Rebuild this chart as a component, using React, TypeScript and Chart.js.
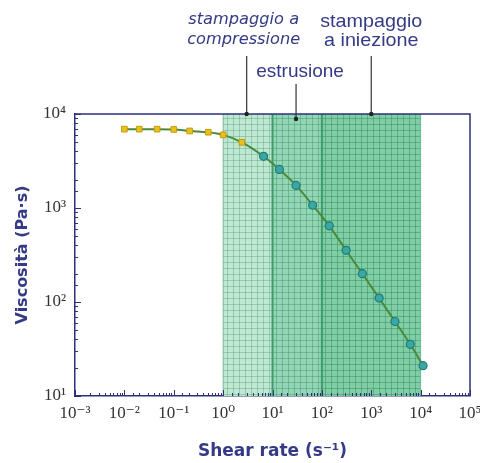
import React, { useEffect, useRef } from "react";
import { Chart, registerables } from "chart.js";

Chart.register(...registerables);

// ---- Data ----
const xMin = 1e-3;
const xMax = 1e5;
const yMin = 10;
const yMax = 1e4;

// yellow squares (Newtonian plateau)
const yellowShear = [0.01, 0.02, 0.046, 0.1, 0.21, 0.5, 1.0, 2.4];
const yellowVisc = [6900, 6900, 6900, 6850, 6600, 6400, 6000, 5000];

// teal circles (shear thinning)
const tealShear = [6.6, 13.8, 30, 65, 141, 309, 661, 1445, 3020, 6170, 11200];
const tealVisc = [3550, 2570, 1740, 1070, 646, 355, 200, 110, 62, 35.5, 21];

// processing ranges (shear-rate bounds)
const regionBounds = [1, 10, 100, 10000];

// annotations: text lines and the shear rate each arrow points to
const annotTexts = [["stampaggio a", "compressione"], ["estrusione"], ["stampaggio", "a iniezione"]];
const annotShear = [3, 30, 1000];

const axisTitleX = "Shear rate (s\u207B\u00B9)";
const axisTitleY = "Viscosità (Pa·s)";

// ---- Styles ----
const NAVY = "#2c3178";
const TEXT_NAVY = "#343a86";
const regionFill = ["#bfe8d3", "#92d6b5", "#7fcea6"];
const regionGrid = ["rgba(70,150,110,0.35)", "rgba(50,130,90,0.35)", "rgba(40,120,80,0.38)"];

const SUP: Record<string, string> = {
  "-": "\u207B", "0": "\u2070", "1": "\u00B9", "2": "\u00B2", "3": "\u00B3",
  "4": "\u2074", "5": "\u2075", "6": "\u2076", "7": "\u2077", "8": "\u2078", "9": "\u2079",
};
const sup = (s: string) => s.split("").map((c) => SUP[c] || c).join("");

const isMajor = (v: number) => {
  const l = Math.log10(v);
  return Math.abs(l - Math.round(l)) < 1e-6;
};
const powLabel = (v: number) => (isMajor(v) ? "10" + sup(String(Math.round(Math.log10(v)))) : "");

const bgPlugin = {
  id: "bg",
  beforeDraw(chart: any) {
    const { ctx, width, height } = chart;
    ctx.save();
    ctx.fillStyle = "#ffffff";
    ctx.fillRect(0, 0, width, height);
    ctx.restore();
  },
};

const regionsPlugin = {
  id: "regions",
  beforeDatasetsDraw(chart: any) {
    const { ctx, chartArea } = chart;
    const x = chart.scales.x;
    const { top, bottom } = chartArea;
    ctx.save();
    for (let i = 0; i < regionBounds.length - 1; i++) {
      const x0 = x.getPixelForValue(regionBounds[i]);
      const x1 = x.getPixelForValue(regionBounds[i + 1]);
      ctx.fillStyle = regionFill[i];
      ctx.fillRect(x0, top, x1 - x0, bottom - top);
      ctx.strokeStyle = regionGrid[i];
      ctx.lineWidth = 1;
      ctx.beginPath();
      for (let gx = x0 + 3.5; gx < x1; gx += 6) {
        ctx.moveTo(Math.round(gx) + 0.5, top);
        ctx.lineTo(Math.round(gx) + 0.5, bottom);
      }
      for (let gy = top + 3.5; gy < bottom; gy += 6) {
        ctx.moveTo(x0, Math.round(gy) + 0.5);
        ctx.lineTo(x1, Math.round(gy) + 0.5);
      }
      ctx.stroke();
    }
    // region dividers
    ctx.strokeStyle = "#3f9a6c";
    ctx.lineWidth = 2;
    ctx.beginPath();
    for (let i = 1; i < regionBounds.length - 1; i++) {
      const px = x.getPixelForValue(regionBounds[i]);
      ctx.moveTo(px, top);
      ctx.lineTo(px, bottom);
    }
    ctx.stroke();
    ctx.strokeStyle = "rgba(63,154,108,0.6)";
    ctx.lineWidth = 1;
    ctx.beginPath();
    [regionBounds[0], regionBounds[regionBounds.length - 1]].forEach((b) => {
      const px = x.getPixelForValue(b);
      ctx.moveTo(px, top);
      ctx.lineTo(px, bottom);
    });
    ctx.stroke();
    ctx.restore();
  },
};

const framePlugin = {
  id: "frame",
  afterDraw(chart: any) {
    const { ctx, chartArea } = chart;
    const { left, right, top, bottom } = chartArea;
    const x = chart.scales.x;
    const y = chart.scales.y;
    ctx.save();
    // top and right frame
    ctx.strokeStyle = NAVY;
    ctx.lineWidth = 1.5;
    ctx.beginPath();
    ctx.moveTo(left, top);
    ctx.lineTo(right, top);
    ctx.lineTo(right, bottom);
    ctx.stroke();

    // inward ticks
    ctx.lineWidth = 1;
    ctx.beginPath();
    x.ticks.forEach((t: any) => {
      const px = Math.round(x.getPixelForValue(t.value)) + 0.5;
      const len = isMajor(t.value) ? 6 : 3;
      ctx.moveTo(px, bottom);
      ctx.lineTo(px, bottom - len);
    });
    y.ticks.forEach((t: any) => {
      const py = Math.round(y.getPixelForValue(t.value)) + 0.5;
      const len = isMajor(t.value) ? 6 : 3;
      ctx.moveTo(left, py);
      ctx.lineTo(left + len, py);
    });
    ctx.stroke();

    // annotations
    ctx.fillStyle = TEXT_NAVY;
    ctx.strokeStyle = "#222";
    ctx.textAlign = "center";
    ctx.textBaseline = "middle";
    const textCenters = [
      { dx: -3, ys: [20, 40], font: "oblique 15px 'DejaVu Sans'", scaleX: 1.08, lineTop: 56, dotY: top },
      { dx: 4, ys: [72], font: "19px 'Liberation Sans'", scaleX: 1.0, lineTop: 84, dotY: top + 5 },
      { dx: 0, ys: [22, 41], font: "19px 'Liberation Sans'", scaleX: 1.04, lineTop: 56, dotY: top },
    ];
    annotTexts.forEach((lines, i) => {
      const px = x.getPixelForValue(annotShear[i]);
      const c = textCenters[i];
      ctx.font = c.font;
      lines.forEach((ln, j) => {
        ctx.save();
        ctx.translate(px + c.dx, c.ys[j]);
        ctx.scale(c.scaleX, 1);
        ctx.fillText(ln, 0, 0);
        ctx.restore();
      });
      ctx.strokeStyle = "#333";
      ctx.lineWidth = 1.2;
      ctx.beginPath();
      ctx.moveTo(px, c.lineTop);
      ctx.lineTo(px, c.dotY);
      ctx.stroke();
      ctx.fillStyle = "#222";
      ctx.beginPath();
      ctx.arc(px, c.dotY, 2.2, 0, Math.PI * 2);
      ctx.fill();
      ctx.fillStyle = TEXT_NAVY;
    });
    ctx.restore();
  },
};

export default function App() {
  const ref = useRef<HTMLCanvasElement | null>(null);

  useEffect(() => {
    const canvas = ref.current;
    if (!canvas) return;
    const curve = [
      ...yellowShear.map((s, i) => ({ x: s, y: yellowVisc[i] })),
      ...tealShear.map((s, i) => ({ x: s, y: tealVisc[i] })),
    ];
    const chart = new Chart(canvas, {
      type: "line",
      data: {
        datasets: [
          {
            label: "yellow",
            data: yellowShear.map((s, i) => ({ x: s, y: yellowVisc[i] })),
            showLine: false,
            pointStyle: "rect",
            pointRadius: 4,
            backgroundColor: "#e8c21a",
            borderColor: "#c79a10",
            borderWidth: 1,
          },
          {
            label: "teal",
            data: tealShear.map((s, i) => ({ x: s, y: tealVisc[i] })),
            showLine: false,
            pointStyle: "circle",
            pointRadius: 4,
            backgroundColor: "#3aa8a2",
            borderColor: "#1f7a78",
            borderWidth: 1.2,
          },
          {
            label: "fit",
            data: curve,
            showLine: true,
            pointRadius: 0,
            borderColor: "#4a8a3a",
            borderWidth: 2,
            cubicInterpolationMode: "monotone",
            fill: false,
          },
        ],
      },
      options: {
        responsive: false,
        animation: false,
        devicePixelRatio: 1,
        layout: { padding: { top: 114, right: 10, left: 0, bottom: 0 } },
        plugins: {
          legend: { display: false },
          tooltip: { enabled: false },
        },
        scales: {
          x: {
            type: "logarithmic",
            min: xMin,
            max: xMax,
            border: { display: true, color: NAVY, width: 1.5 },
            grid: { display: true, drawOnChartArea: false, drawTicks: false },
            ticks: {
              autoSkip: false,
              maxRotation: 0,
              padding: 7,
              color: "#333",
              font: { family: "'Liberation Serif', 'DejaVu Serif', serif", size: 17 },
              callback: (v: any) => powLabel(Number(v)),
            },
            title: {
              display: true,
              text: axisTitleX,
              color: TEXT_NAVY,
              font: { family: "'DejaVu Sans'", size: 17, weight: "bold" },
              padding: { top: 0, bottom: 1 },
            },
            afterFit: (s: any) => {
              s.height = 67;
              s.paddingLeft = 0;
              s.paddingRight = 0;
            },
          },
          y: {
            type: "logarithmic",
            min: yMin,
            max: yMax,
            border: { display: true, color: NAVY, width: 1.5 },
            grid: { display: true, drawOnChartArea: false, drawTicks: false },
            ticks: {
              autoSkip: false,
              padding: 9,
              color: "#333",
              font: { family: "'Liberation Serif', 'DejaVu Serif', serif", size: 17 },
              callback: (v: any) => powLabel(Number(v)),
            },
            title: {
              display: true,
              text: axisTitleY,
              color: TEXT_NAVY,
              font: { family: "'DejaVu Sans'", size: 16, weight: "bold" },
              padding: { top: 13, bottom: 0 },
            },
            afterFit: (s: any) => {
              s.width = 75;
              s.paddingTop = 0;
              s.paddingBottom = 0;
            },
          },
        },
      },
      plugins: [bgPlugin, regionsPlugin, framePlugin],
    } as any);
    return () => chart.destroy();
  }, []);

  return (
    <div style={{ position: "fixed", left: 0, top: 0, width: 480, height: 463 }}>
      <canvas ref={ref} width={480} height={463} style={{ display: "block" }} />
    </div>
  );
}
